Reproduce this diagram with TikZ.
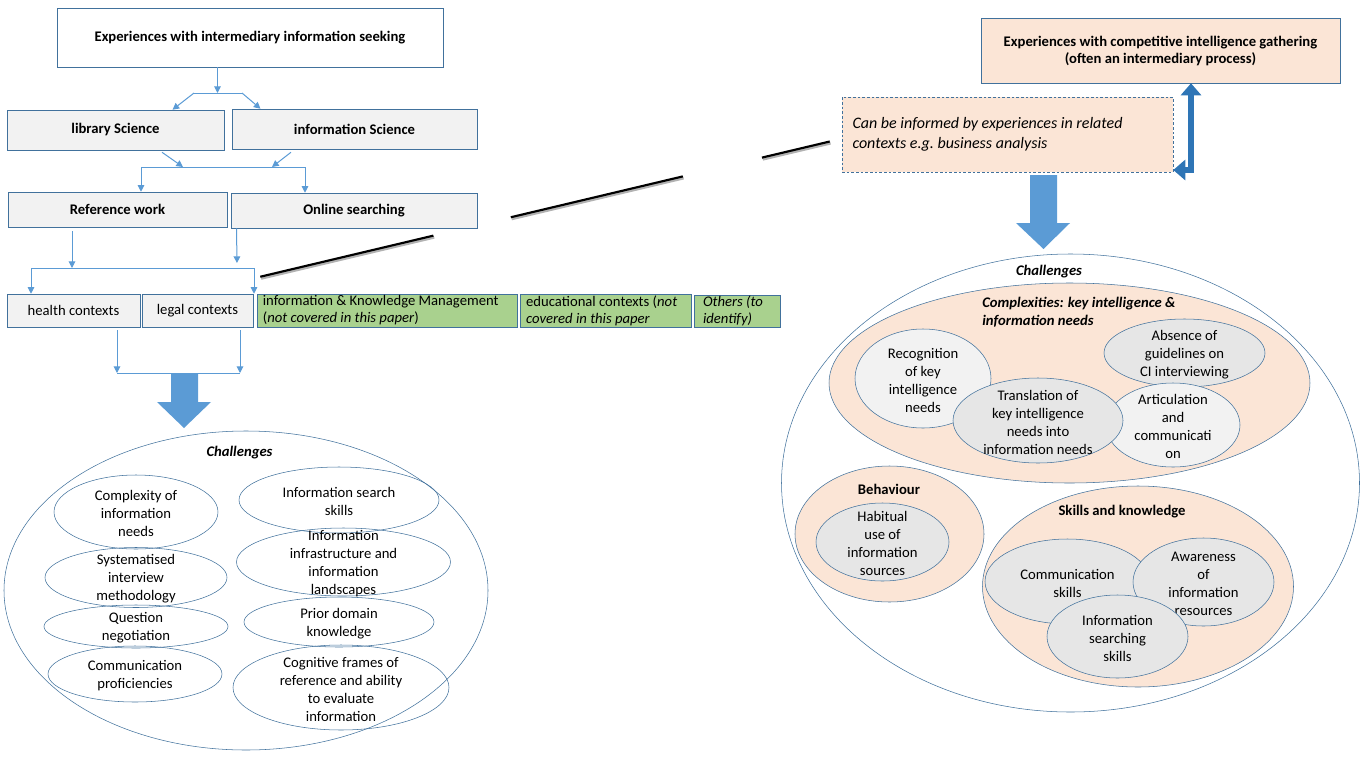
\documentclass[tikz,border=0pt]{standalone}
\usepackage{fontspec}
\setmainfont{Carlito}
\usetikzlibrary{shapes.geometric,arrows.meta,positioning,calc}

\definecolor{edge}{RGB}{65,113,156}
\definecolor{link}{RGB}{91,155,213}
\definecolor{boxgrey}{RGB}{242,242,242}
\definecolor{bubgrey}{RGB}{230,230,230}
\definecolor{leaf}{RGB}{169,209,142}
\definecolor{peach}{RGB}{251,229,214}
\definecolor{bentblue}{RGB}{46,117,182}

\tikzset{
  every node/.style={font=\fontsize{11}{13.5}\selectfont},
  stage/.style={draw=edge, fill=boxgrey, inner sep=0pt, font=\fontsize{11}{13.5}\selectfont\bfseries},
  ctx/.style={draw=edge, fill=boxgrey, inner sep=0pt},
  leafbox/.style={draw=edge, fill=leaf, align=flush left, inner ysep=0pt, font=\fontsize{11}{12.75}\selectfont},
  bubble/.style={ellipse, draw=edge, inner sep=0pt},
  txt/.style={align=center},
  headline/.style={font=\fontsize{11}{13.5}\selectfont\bfseries\itshape},
  wire/.style={link, line width=0.75pt},
  flow/.style={wire, -{Triangle[length=5pt,width=5pt]}},
  blockarrow/.style={fill=link},
  bent/.style={bentblue, line width=4.5pt, {Triangle[length=9pt,width=15pt]}-{Triangle[length=9pt,width=15pt]}},
  pointer/.style={black, line width=1.6pt}
}

\begin{document}
\begin{tikzpicture}[x=0.75pt, y=-0.75pt]
\useasboundingbox (0,0) rectangle (1361,768);

% intermediary information seeking
\node[stage, fill=white, minimum width=289.5pt, minimum height=44.25pt] (seek) at (250,37.5) {Experiences with intermediary information seeking};
\node[stage, minimum width=162.75pt, minimum height=30pt] (lib) at (115.5,130) {library Science};
\node[stage, minimum width=183.75pt, minimum height=30pt] (info) at (354.5,129) {information Science};
\node[stage, minimum width=164.25pt, minimum height=26.25pt] (ref) at (117.5,209.5) {Reference work};
\node[stage, minimum width=184.5pt, minimum height=26.25pt] (online) at (354,210.5) {Online searching};
\node[ctx, minimum width=99.75pt, minimum height=24.75pt] (health) at (73.5,310.5) {health contexts};
\node[ctx, minimum width=83.25pt, minimum height=24.75pt] (legal) at (197.5,310.5) {legal contexts};
\node[leafbox, minimum width=195pt, minimum height=24.75pt, text width=187pt, inner xsep=4pt] (ikm) at (387.5,310.5) {information \& Knowledge Management\\(\textit{not covered in this paper})};
\node[leafbox, minimum width=128.25pt, minimum height=24.75pt, text width=119pt, inner xsep=4.6pt] (edu) at (605.5,310.5) {educational contexts (\textit{not}\\\textit{covered in this paper}};
\node[leafbox, minimum width=64.5pt, minimum height=24pt, text width=51pt, inner xsep=6.75pt, font=\fontsize{11}{12.75}\selectfont\itshape] (others) at (737,311) {Others (to\\identify)};

% connectors
\coordinate (j1) at (217.5,93);
\coordinate (j1l) at (194,93);
\coordinate (j1r) at (242,93);
\draw[flow] (seek.south -| j1) -- (j1);
\draw[wire] (j1l) -- (j1r);
\draw[flow] (j1l) -- ($(lib.north)+(57,0)$);
\draw[flow] (j1r) -- ($(info.north)+(-94,0)$);

\coordinate (j2l) at (141,167);
\coordinate (j2r) at (305,167);
\draw[flow] ($(lib.south)+(46.5,2)$) -- ($(j2l)+(42,0)$);
\draw[flow] ($(info.south)+(-63.5,3)$) -- ($(j2r)+(-33,0)$);
\draw[wire] (j2l) -- (j2r);
\draw[flow] (j2l) -- (ref.north -| j2l);
\draw[flow] (j2r) -- (online.north -| j2r);

\coordinate (j3l) at (31,268);
\coordinate (j3r) at (254,268);
\draw[flow] ($(ref.south)+(-45.5,4)$) -- ($(j3l)+(41,0)$);
\draw[flow] ($(online.south)+(-117.5,0)$) -- ($(j3r)+(-17,-5)$);
\draw[wire] (j3l) -- (j3r);
\draw[flow] (j3l) -- (health.north -| j3l);
\draw[flow] (j3r) -- (legal.north -| j3r);

\coordinate (j4l) at (117,373);
\coordinate (j4r) at (240,373);
\draw[flow] ($(health.south)+(43.5,3)$) -- (j4l);
\draw[flow] ($(legal.south)+(42.5,3)$) -- (j4r);
\draw[wire] (j4l) -- (j4r);
\fill[blockarrow] (171,373) -- (198,373) -- (198,402) -- (211,402) -- (184,428) -- (157,402) -- (171,402) -- cycle;

% challenges (left)
\node[bubble, minimum width=363pt, minimum height=239.25pt] (chalL) at (246,590.5) {};
\node[headline] (chalL-t) at (239.5,453) {Challenges};
\foreach \nm/\cx/\cy/\w/\h/\t in {
    cplx/136/512/123/55.5/{Complexity of\\information\\needs},
    sys/136/577.5/136.5/45/{Systematised\\interview\\methodology},
    quest/136/626.5/138/32.25/{Question\\negotiation},
    commp/135/674/130.5/42/{Communication\\proficiencies},
    srch/339/500/150/49.5/{Information search\\skills},
    infra/343.5/562/160.5/51/{Information\\infrastructure and\\information\\landscapes},
    prior/339/622/142.5/37.5/{Prior domain\\knowledge},
    cogn/341/687.5/162/63.75/{Cognitive frames of\\reference and ability\\to evaluate\\information}}{
  \node[bubble, minimum width=\w pt, minimum height=\h pt] (\nm) at (\cx,\cy) {};
  \node[txt] (\nm-t) at ($(\nm)+(0,1.5)$) {\t};
}

% competitive intelligence
\node[stage, fill=peach, minimum width=269.25pt, minimum height=48.75pt, align=center, font=\fontsize{11}{12.75}\selectfont\bfseries] (ci) at (1160.5,50.5) {Experiences with competitive intelligence gathering\\(often an intermediary process)};
\node[draw=edge, dash pattern=on 2pt off 1.5pt, fill=peach, minimum width=248.25pt, minimum height=56.25pt, text width=232.5pt, inner xsep=7.875pt, align=flush left, font=\fontsize{12}{15}\selectfont\itshape] (inform) at (1007.5,134.5) {Can be informed by experiences in related\\contexts e.g.\ business analysis};

\coordinate (bend) at (1191,170);
\draw[bent] (inform.east |- bend) -- (bend) -- (bend |- ci.south);
\fill[blockarrow] (1030,175) -- (1057,175) -- (1057,223) -- (1070,223) -- (1043.5,249) -- (1016,223) -- (1030,223) -- cycle;

% pointer line, broken in three pieces
\coordinate (c1) at ($(legal.north east)+(7,-17)$);
\coordinate (c2) at ($(inform.west)+(-12,7)$);
\foreach \a/\b in {0/0.304, 0.44/0.742, 0.881/1}{
  \draw[black!30, line width=2.2pt, transform canvas={xshift=0.6pt,yshift=-1.2pt}] ($(c1)!\a!(c2)$) -- ($(c1)!\b!(c2)$);
  \draw[pointer] ($(c1)!\a!(c2)$) -- ($(c1)!\b!(c2)$);
}

% challenges (right)
\node[bubble, minimum width=433.5pt, minimum height=343.5pt] (chalR) at (1070.5,483) {};
\node[headline] (chalR-t) at (1049,271.5) {Challenges};
\node[bubble, fill=peach, minimum width=360.75pt, minimum height=150pt] (cplxR) at (1069.5,383) {};
\node[headline, align=left, anchor=west, inner sep=0pt] (cplxR-t) at (982,312) {Complexities: key intelligence \&\\information needs};
\node[bubble, fill=peach, minimum width=141.75pt, minimum height=102pt] (behav) at (889.5,534) {};
\node[bubble, fill=peach, minimum width=233.25pt, minimum height=150.75pt] (skill) at (1138,586.5) {};
\node[font=\fontsize{11}{13.5}\selectfont\bfseries] (behav-t) at (889,489) {Behaviour};
\node[font=\fontsize{11}{13.5}\selectfont\bfseries] (skill-t) at (1122,512) {Skills and knowledge};
\foreach \nm/\f/\cx/\cy/\w/\h/\t in {
    recog/boxgrey/923/378.5/102/74.25/{Recognition\\of key\\intelligence\\needs},
    absent/bubgrey/1184.5/353/120.75/51/{Absence of\\guidelines on\\CI interviewing},
    artic/boxgrey/1173/425/100.5/63/{Articulation\\and\\communicati\\on},
    transl/bubgrey/1038/420.5/127.5/63.75/{{\fontsize{11}{13.5}\selectfont Translation of}\\key intelligence\\needs into\\information needs},
    habit/bubgrey/882.5/542/99.75/58.5/{Habitual\\use of\\information\\sources},
    comm/bubgrey/1067.5/581.5/123.75/63.75/{Communication\\skills},
    aware/bubgrey/1203.5/582/105.75/66/{Awareness\\of\\information\\resources},
    isrch/bubgrey/1117.5/636.5/105.75/62.25/{Information\\searching\\skills}}{
  \node[bubble, fill=\f, minimum width=\w pt, minimum height=\h pt] (\nm) at (\cx,\cy) {};
  \node[txt] (\nm-t) at ($(\nm)+(0,1.5)$) {\t};
}
\end{tikzpicture}
\end{document}
